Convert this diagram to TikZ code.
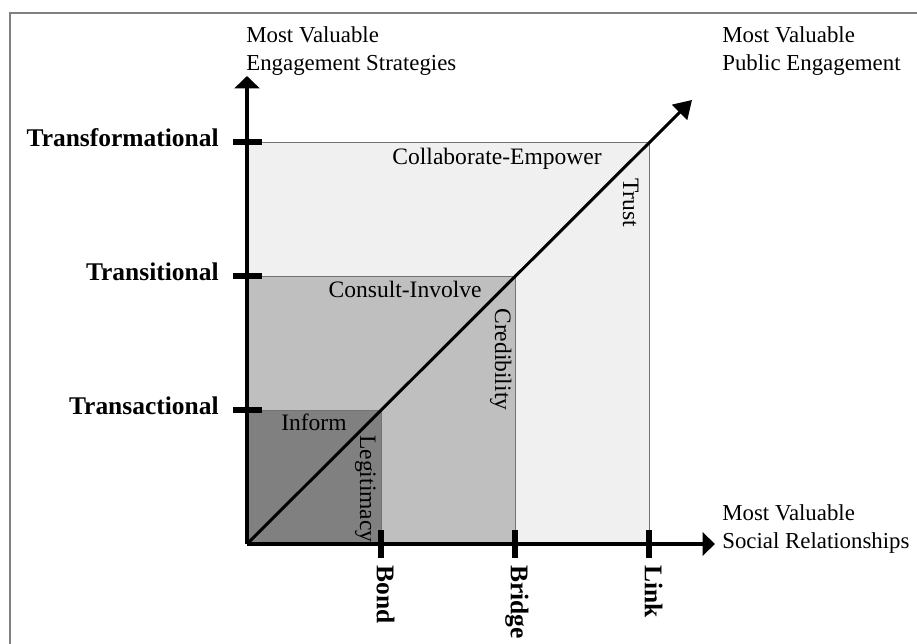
\documentclass[tikz,border=0pt]{standalone}
\usepackage{fontspec}
\setmainfont{Liberation Serif}
\usetikzlibrary{arrows.meta,positioning,calc}

\begin{document}
\begin{tikzpicture}[x=0.02cm,y=-0.02cm,
  axis/.style={line width=2.3pt},
  tickmark/.style={line width=3pt},
  zone/.style={draw=black!55,line width=0.5pt},
  lvl/.style={font=\fontsize{14.5}{16}\selectfont\bfseries,inner sep=0pt},
  lbl/.style={font=\fontsize{13}{15.9}\selectfont,inner sep=0pt,align=left},
  inlbl/.style={font=\fontsize{13.4}{15}\selectfont,inner sep=0pt}]
\useasboundingbox (0,0) rectangle (917,644);
\draw[black!50,line width=0.9pt] (10,644) -- (10,13) -- (917,13);
\coordinate (O) at (247,544);
\coordinate (Bd) at (381,544);
\coordinate (Br) at (515,544);
\coordinate (Lk) at (649,544);
\coordinate (Ta) at (247,410);
\coordinate (Ti) at (247,276);
\coordinate (Tf) at (247,142);
\coordinate (Yend) at (247,76);
\coordinate (Xend) at (715,544);
\coordinate (Dend) at (692,100);
% zones
\filldraw[zone,fill=black!6] (O) rectangle (649,142);
\filldraw[zone,fill=black!25] (O) rectangle (515,276);
\filldraw[zone,fill=black!50] (O) rectangle (381,410);
% axes
\draw[axis,-{Triangle[length=7pt,width=14pt]}] (O) -- (Yend);
\draw[axis,-{Triangle[length=7pt,width=13pt]}] (O) -- (Xend);
\draw[line width=1.7pt,-{Triangle[length=10pt,width=12pt]}] (O) -- (Dend);
% ticks
\draw[tickmark] ($(Ta)+(-14,0)$) -- ($(Ta)+(15,0)$);
\draw[tickmark] ($(Ti)+(-14,0)$) -- ($(Ti)+(15,0)$);
\draw[tickmark] ($(Tf)+(-14,0)$) -- ($(Tf)+(15,0)$);
\draw[tickmark] ($(Bd)+(0,-14)$) -- ($(Bd)+(0,14)$);
\draw[tickmark] ($(Br)+(0,-14)$) -- ($(Br)+(0,14)$);
\draw[tickmark] ($(Lk)+(0,-14)$) -- ($(Lk)+(0,14)$);
% level labels
\node[lvl,anchor=mid east] (transac) at (219,410) {Transactional};
\node[lvl,anchor=mid east] (transit) at (219,276) {Transitional};
\node[lvl,anchor=mid east] (transf) at (219,142) {Transformational};
\node[lvl,rotate=-90,anchor=mid west] (bond) at (381,565) {Bond};
\node[lvl,rotate=-90,anchor=mid west] (bridge) at (515,565) {Bridge};
\node[lvl,rotate=-90,anchor=mid west] (link) at (649,565) {Link};
% axis titles
\node[lbl,anchor=north west] (ytitle) at (246,26) {Most Valuable\\Engagement Strategies};
\node[lbl,anchor=north west] (dtitle) at (722,26) {Most Valuable\\Public Engagement};
\node[lbl,anchor=north west] (xtitle) at (722,504) {Most Valuable\\Social Relationships};
% zone labels
\node[inlbl,anchor=base east] (collab) at (602,165) {Collaborate-Empower};
\node[inlbl,anchor=base east] (consult) at (482,298) {Consult-Involve};
\node[inlbl,anchor=base east] (inform) at (347,431) {Inform};
\node[inlbl,rotate=-90,anchor=base west] (trust) at (623,178) {Trust};
\node[inlbl,rotate=-90,anchor=base west] (cred) at (495,308) {Credibility};
\node[inlbl,rotate=-90,anchor=base west] (legit) at (360,435) {Legitimacy};
\end{tikzpicture}
\end{document}
